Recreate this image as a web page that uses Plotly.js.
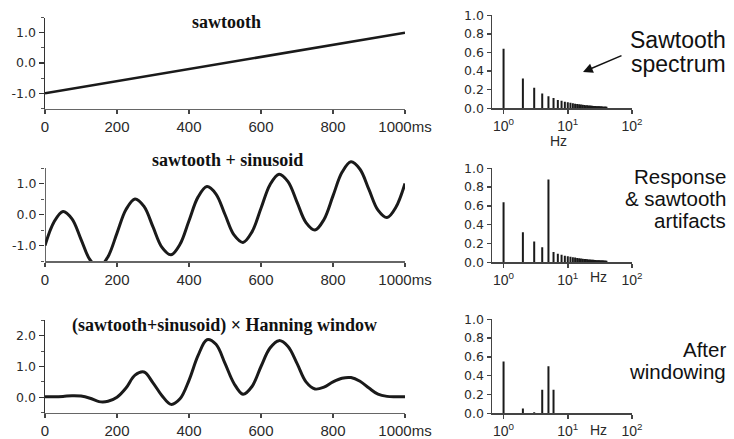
<!DOCTYPE html>
<html>
<head>
<meta charset="utf-8">
<script src="https://cdn.plot.ly/plotly-3.0.1.min.js"></script>
<style>
  html, body { margin: 0; padding: 0; background: #fff; }
  #chart { width: 734px; height: 439px; }
</style>
</head>
<body>
<div id="chart"></div>
<script>
// ---- time-domain signals (ms) ----
const timeMs = [0, 25, 50, 75, 100, 125, 150, 175, 200, 225, 250, 275, 300, 325, 350, 375, 400,
  425, 450, 475, 500, 525, 550, 575, 600, 625, 650, 675, 700, 725, 750, 775, 800,
  825, 850, 875, 900, 925, 950, 975, 1000];

const sawtoothT = [0, 1000];
const sawtooth = [-1.0, 1.0];

const sawSine = [-1.0, -0.24, 0.1, -0.14, -0.8, -1.46, -1.7, -1.36, -0.6, 0.16, 0.5, 0.26, -0.4,
  -1.06, -1.3, -0.96, -0.2, 0.56, 0.9, 0.66, 0.0, -0.66, -0.9, -0.56, 0.2, 0.96, 1.3,
  1.06, 0.4, -0.26, -0.5, -0.16, 0.6, 1.36, 1.7, 1.46, 0.8, 0.14, -0.1, 0.24, 1.0];

const windowed = [0.02, 0.02, 0.03, 0.05, 0.04, -0.03, -0.14, -0.13, 0.0, 0.3, 0.72, 0.82, 0.47,
  0.05, -0.23, -0.05, 0.55, 1.35, 1.87, 1.72, 1.1, 0.45, 0.1, 0.35, 1.0, 1.6, 1.84,
  1.65, 1.1, 0.5, 0.27, 0.33, 0.5, 0.62, 0.64, 0.52, 0.3, 0.1, 0.03, 0.02, 0.02];

// ---- spectra (Hz, amplitude) ----
const harmonicHz = [1, 2, 3, 4, 5, 6, 7, 8, 9, 10, 11, 12, 13, 14, 15, 16, 17, 18, 19, 20,
  21, 22, 23, 24, 25, 26, 27, 28, 29, 30, 31, 32, 33, 34, 35, 36, 37, 38, 39, 40];
const sawSpectrum = [0.64, 0.32, 0.22, 0.16, 0.13, 0.11, 0.09, 0.08, 0.07, 0.065, 0.06, 0.055,
  0.05, 0.046, 0.043, 0.04, 0.038, 0.036, 0.034, 0.032, 0.031, 0.029, 0.028, 0.027, 0.026,
  0.025, 0.024, 0.023, 0.022, 0.021, 0.021, 0.02, 0.019, 0.019, 0.018, 0.018, 0.017, 0.017,
  0.016, 0.016];
const responseSpectrum = [0.64, 0.32, 0.22, 0.16, 0.88, 0.11, 0.09, 0.08, 0.07, 0.065, 0.06, 0.055,
  0.05, 0.046, 0.043, 0.04, 0.038, 0.036, 0.034, 0.032, 0.031, 0.029, 0.028, 0.027, 0.026,
  0.025, 0.024, 0.023, 0.022, 0.021, 0.021, 0.02, 0.019, 0.019, 0.018, 0.018, 0.017, 0.017,
  0.016, 0.016];
const windowedHz = [1, 2, 3, 4, 5, 6];
const windowedSpectrum = [0.55, 0.05, 0.01, 0.25, 0.5, 0.25];

// ---- labels ----
const timeTicks = [0, 200, 400, 600, 800, 1000];
const timeTickText = ['0', '200', '400', '600', '800', '1000ms'];
const freqTicks = [1, 10, 100];
const freqTickText = ['10<sup>0</sup>', '10<sup>1</sup>', '10<sup>2</sup>'];
const ampTicks = [0, 0.2, 0.4, 0.6, 0.8, 1.0];
const ampTickText = ['0.0', '0.2', '0.4', '0.6', '0.8', '1.0'];
const panelTitles = ['sawtooth', 'sawtooth + sinusoid', '(sawtooth+sinusoid) \u00d7 Hanning window'];

// ---- page geometry (pixels) ----
const W = 734, H = 439;
const px = v => v / W;
const py = v => 1 - v / H;

// vertical stems for a line spectrum
function stems(freqs, amps) {
  const x = [], y = [];
  freqs.forEach((f, i) => { x.push(f, f, null); y.push(0, amps[i], null); });
  return { x, y };
}

const ink = '#1a1a1a';
const tickFont = { family: 'Liberation Sans, Arial, sans-serif', size: 15, color: '#2a2a2a' };
const yTickFont = { family: 'DejaVu Sans, sans-serif', size: 12.5, color: '#2a2a2a' };

function timeAxis(anchor) {
  return {
    domain: [px(45), px(405)], range: [0, 1000], anchor: anchor,
    tickmode: 'array', tickvals: timeTicks, ticktext: timeTickText,
    ticks: 'outside', ticklen: 4, tickwidth: 1.5, tickcolor: '#444',
    showline: true, linecolor: '#666', linewidth: 1.5,
    showgrid: false, zeroline: false, tickfont: tickFont, fixedrange: true
  };
}
function valueAxis(anchor, domain, range, vals, text, minorVals, line) {
  return {
    domain: domain, range: range, anchor: anchor,
    tickmode: 'array', tickvals: vals, ticktext: text,
    ticks: 'outside', ticklen: 5, tickwidth: 1.5, tickcolor: '#333',
    minor: { tickmode: 'array', tickvals: minorVals, ticks: 'outside', ticklen: 3, tickwidth: 1, tickcolor: '#555' },
    showline: line, linecolor: '#333', linewidth: 1.5,
    showgrid: false, zeroline: false, tickfont: yTickFont, fixedrange: true
  };
}
function freqAxis(anchor) {
  return {
    type: 'log', domain: [px(492), px(632)], range: [-0.18, 2], anchor: anchor,
    tickmode: 'array', tickvals: freqTicks, ticktext: freqTickText,
    ticks: 'outside', ticklen: 4, tickwidth: 1.5, tickcolor: '#444',
    showline: true, linecolor: '#444', linewidth: 1.5,
    showgrid: false, zeroline: false,
    tickfont: { family: 'Liberation Sans, Arial, sans-serif', size: 14, color: '#2a2a2a' }, fixedrange: true
  };
}
function ampAxis(anchor, top, bottom) {
  return {
    domain: [py(bottom), py(top)], range: [0, 1], anchor: anchor,
    tickmode: 'array', tickvals: ampTicks, ticktext: ampTickText,
    ticks: 'outside', ticklen: 4, tickwidth: 1.5, tickcolor: '#444',
    showline: true, linecolor: '#444', linewidth: 1.5,
    showgrid: false, zeroline: false, tickfont: yTickFont, fixedrange: true
  };
}

const s1 = stems(harmonicHz, sawSpectrum);
const s2 = stems(harmonicHz, responseSpectrum);
const s3 = stems(windowedHz, windowedSpectrum);

const traces = [
  { x: sawtoothT, y: sawtooth, xaxis: 'x', yaxis: 'y', mode: 'lines',
    line: { color: ink, width: 2.5 } },
  { x: s1.x, y: s1.y, xaxis: 'x2', yaxis: 'y2', mode: 'lines',
    line: { color: ink, width: 2 } },
  { x: timeMs, y: sawSine, xaxis: 'x3', yaxis: 'y3', mode: 'lines',
    line: { color: ink, width: 3, shape: 'spline', smoothing: 1 } },
  { x: s2.x, y: s2.y, xaxis: 'x4', yaxis: 'y4', mode: 'lines',
    line: { color: ink, width: 2 } },
  { x: timeMs, y: windowed, xaxis: 'x5', yaxis: 'y5', mode: 'lines',
    line: { color: ink, width: 3, shape: 'spline', smoothing: 1 } },
  { x: s3.x, y: s3.y, xaxis: 'x6', yaxis: 'y6', mode: 'lines',
    line: { color: ink, width: 2 } }
];

const titleFont = { family: 'Liberation Serif, Times New Roman, serif', size: 18, color: '#111' };
const bigSide = { family: 'Liberation Sans, Arial, sans-serif', size: 23, color: '#111' };
const sideFont = { family: 'Liberation Sans, Arial, sans-serif', size: 20.5, color: '#111' };
const hzFont = { family: 'Liberation Sans, Arial, sans-serif', size: 14, color: '#2a2a2a' };

function paperText(text, x, y, font, xanchor) {
  return { text: text, xref: 'paper', yref: 'paper', x: px(x), y: py(y),
    xanchor: xanchor || 'center', yanchor: 'middle', showarrow: false, font: font };
}

const annotations = [
  paperText('<b>' + panelTitles[0] + '</b>', 226, 22, titleFont),
  paperText('<b>' + panelTitles[1] + '</b>', 228, 160, titleFont),
  paperText('<b>' + panelTitles[2] + '</b>', 224, 325, titleFont),
  paperText('Sawtooth', 728, 40, bigSide, 'right'),
  paperText('spectrum', 728, 64, bigSide, 'right'),
  paperText('Response', 728, 176, sideFont, 'right'),
  paperText('& sawtooth', 728, 198, sideFont, 'right'),
  paperText('artifacts', 728, 220, sideFont, 'right'),
  paperText('After', 728, 349, sideFont, 'right'),
  paperText('windowing', 728, 371, sideFont, 'right'),
  paperText('Hz', 558, 141, hzFont),
  paperText('Hz', 598, 277, hzFont),
  paperText('Hz', 598, 430, hzFont),
  { text: '', xref: 'paper', yref: 'paper', x: px(583), y: py(72),
    axref: 'pixel', ayref: 'pixel', ax: 40, ay: -17,
    showarrow: true, arrowhead: 2, arrowsize: 1.3, arrowwidth: 1.5, arrowcolor: '#111' }
];

const layout = {
  width: W, height: H,
  margin: { l: 0, r: 0, t: 0, b: 0 },
  paper_bgcolor: '#fff', plot_bgcolor: 'rgba(0,0,0,0)',
  showlegend: false,
  xaxis: timeAxis('y'),
  yaxis: valueAxis('x', [py(108.5), py(17.5)], [-1.5, 1.5], [-1, 0, 1], ['-1.0', '0.0', '1.0'], [-1.5, -0.5, 0.5, 1.5], true),
  xaxis2: freqAxis('y2'),
  yaxis2: ampAxis('x2', 15.3, 108.3),
  xaxis3: timeAxis('y3'),
  yaxis3: valueAxis('x3', [py(261), py(158.7)], [-1.5, 1.8], [-1, 0, 1], ['-1.0', '0.0', '1.0'], [-1.5, -0.5, 0.5, 1.5], false),
  xaxis4: freqAxis('y4'),
  yaxis4: ampAxis('x4', 168.3, 262.3),
  xaxis5: timeAxis('y5'),
  yaxis5: valueAxis('x5', [py(412.7), py(320.3)], [-0.5, 2.5], [0, 1, 2], ['0.0', '1.0', '2.0'], [-0.5, 0.5, 1.5, 2.5], true),
  xaxis6: freqAxis('y6'),
  yaxis6: ampAxis('x6', 319.3, 413.3),
  shapes: [
    // value axis of the middle trace spans only -1.5..1.5
    { type: 'line', xref: 'x3', yref: 'y3', x0: 0, x1: 0, y0: -1.5, y1: 1.5,
      line: { color: '#333', width: 1.5 } }
  ],
  annotations: annotations
};

Plotly.newPlot('chart', traces, layout, { displayModeBar: false, staticPlot: true });
</script>
</body>
</html>
